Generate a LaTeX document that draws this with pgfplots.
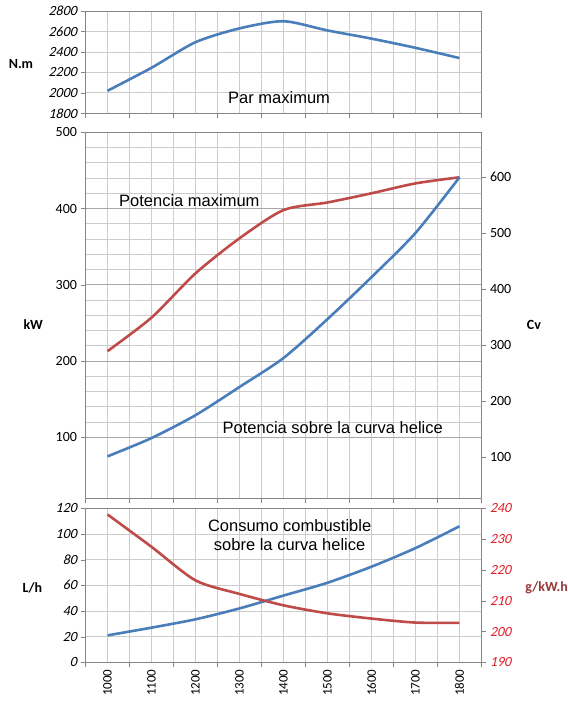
\documentclass[border=0pt]{standalone}
\usepackage{fontspec}
\setmainfont{Carlito}
\newfontfamily\arialfont{Liberation Sans}
\newfontfamily\slantfont{Carlito}[FakeSlant=0.22]
\usepackage{pgfplots}
\pgfplotsset{compat=1.18}

\definecolor{serblue}{HTML}{4A7EBB}
\definecolor{serred}{HTML}{BE4B48}
\definecolor{axgray}{HTML}{868686}
\definecolor{grd}{HTML}{CCCCCC}
\definecolor{grdmaj}{HTML}{A8A8A8}
\definecolor{lblred}{HTML}{953735}
\definecolor{tickred}{HTML}{E0202A}

\tikzset{note/.style={font=\arialfont\fontsize{16.5}{19}\selectfont, align=center, inner sep=0pt}}

\pgfplotsset{
  panel/.style={
    scale only axis, width=396pt,
    xmin=950, xmax=1850,
    xtick={950,1050,...,1850}, xticklabels={}, minor x tick num=1,
    xmajorgrids, xminorgrids,
    tick align=outside, xtick pos=bottom, ytick pos=left,
    major tick length=5pt, minor tick length=0pt,
    axis line style={axgray}, tick style={axgray},
    grid style={grd, line width=0.8pt},
    /pgf/number format/assume math mode=true,
    /pgf/number format/1000 sep={},
    ylabel style={rotate=-90, anchor=center, font=\bfseries\fontsize{14}{16}\selectfont},
    every axis plot/.append style={line width=2.6pt, smooth, tension=0.45, no markers},
  },
  rightaxis/.style={
    scale only axis, width=396pt,
    xmin=950, xmax=1850,
    axis x line=none, axis y line*=right,
    tick align=outside, major tick length=5pt,
    axis line style={axgray}, tick style={axgray},
    /pgf/number format/assume math mode=true,
    ylabel style={rotate=-90, anchor=center, font=\bfseries\fontsize{14}{16}\selectfont},
    every axis plot/.append style={line width=2.6pt, smooth, tension=0.45, no markers},
  },
  % tick numbers as plain text, font switched inside the label itself
  upright/.style={yticklabel={\fontsize{14}{16}\selectfont
    \pgfmathparse{int(round(\tick))}\pgfmathresult}},
  slanted/.style={yticklabel={\slantfont\fontsize{14}{16}\selectfont
    \pgfmathparse{int(round(\tick))}\pgfmathresult}},
}

\begin{document}
\begin{tikzpicture}
\useasboundingbox (0,0) rectangle (568pt,-702pt);

% --- par maximum ---
\begin{axis}[panel, slanted,
  at={(85.5pt,-113.3pt)}, anchor=south west, height=102.3pt,
  ymin=1800, ymax=2800, ytick={1800,2000,...,2800}, ymajorgrids,
  ylabel={N.m}, ylabel style={at={(axis description cs:-0.163,0.479)}},
]
\addplot[serblue] coordinates {
(1000,2020) (1100,2245) (1200,2495) (1300,2630) (1400,2700)
(1500,2610) (1600,2530) (1700,2440) (1800,2340)
};
\node[note] at (axis cs:1390,1952) {Par maximum};
\end{axis}

% --- potencia ---
\begin{axis}[panel, upright,
  at={(85.5pt,-498.3pt)}, anchor=south west, height=366pt,
  ymin=20, ymax=500, ytick={100,200,...,500}, minor y tick num=4,
  ymajorgrids, yminorgrids, major y grid style={grdmaj, line width=0.8pt},
  ylabel={kW}, ylabel style={at={(axis description cs:-0.132,0.475)}},
]
\addplot[serred] coordinates {
(1000,213) (1100,257) (1200,315) (1300,361) (1400,398)
(1500,408) (1600,420) (1700,433) (1800,441)
};
\addplot[serblue] coordinates {
(1000,75) (1100,99) (1200,129) (1300,166) (1400,204)
(1500,255) (1600,310) (1700,368) (1800,441)
};
\node[note] at (axis cs:1186,410) {Potencia maximum};
\node[note] at (axis cs:1512,112.6) {Potencia sobre la curva helice};
\end{axis}
\begin{axis}[rightaxis, upright,
  at={(85.5pt,-498.3pt)}, anchor=south west, height=366pt,
  ymin=27.2, ymax=680, ytick={100,200,...,600},
  ylabel={Cv}, ylabel style={at={(axis description cs:1.1326,0.4735)}},
]
\end{axis}

% --- consumo ---
\begin{axis}[panel, slanted,
  at={(85.5pt,-662.3pt)}, anchor=south west, height=154pt,
  ymin=0, ymax=120, ytick={0,20,...,120}, ymajorgrids,
  extra x ticks={1000,1100,1200,1300,1400,1500,1600,1700,1800},
  extra x tick labels={1000,1100,1200,1300,1400,1500,1600,1700,1800},
  extra x tick style={grid=none, major tick length=0pt,
    xticklabel style={rotate=90, anchor=east, inner xsep=7pt, font=\fontsize{13}{15}\selectfont}},
  ylabel={L/h}, ylabel style={at={(axis description cs:-0.134,0.482)}},
]
\addplot[serblue] coordinates {
(1000,21) (1100,27) (1200,33.5) (1300,42) (1400,52)
(1500,62) (1600,74.5) (1700,89) (1800,106)
};
\node[note] at (axis cs:1414,98.8) {Consumo combustible\\sobre la curva helice};
\end{axis}
\begin{axis}[rightaxis, slanted,
  at={(85.5pt,-662.3pt)}, anchor=south west, height=154pt,
  ymin=190, ymax=240, ytick={190,200,...,240},
  yticklabel style={text=tickred},
  ylabel={g/kW.h}, ylabel style={at={(axis description cs:1.102,0.487)}, anchor=west, text=lblred},
]
\addplot[serred] coordinates {
(1000,238) (1100,227.5) (1200,216.6) (1300,212.2) (1400,208.5)
(1500,205.9) (1600,204.2) (1700,202.9) (1800,202.8)
};
\end{axis}
\end{tikzpicture}
\end{document}
